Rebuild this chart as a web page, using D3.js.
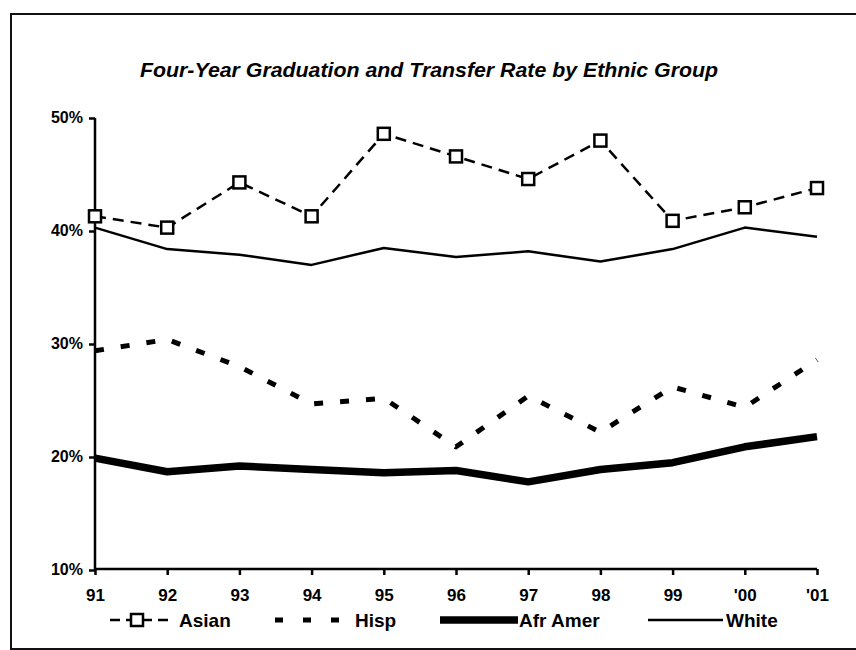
<!DOCTYPE html>
<html>
<head>
<meta charset="utf-8">
<script src="https://cdn.jsdelivr.net/npm/d3@7"></script>
<style>
  body { margin: 0; background: #fff; }
  svg { display: block; font-family: "Liberation Sans", Arial, sans-serif; }
</style>
</head>
<body>
<div id="chart"></div>
<script>
// values, in percent
var years = ["91", "92", "93", "94", "95", "96", "97", "98", "99", "'00", "'01"]
var asian = [41.3, 40.3, 44.3, 41.3, 48.6, 46.6, 44.6, 48.0, 40.9, 42.1, 43.8]
var hisp = [29.4, 30.4, 28.0, 24.7, 25.2, 20.9, 25.4, 22.2, 26.2, 24.4, 28.6]
var afrAmer = [19.9, 18.7, 19.2, 18.9, 18.6, 18.8, 17.8, 18.9, 19.5, 20.9, 21.8]
var white = [40.3, 38.4, 37.9, 37.0, 38.5, 37.7, 38.2, 37.3, 38.4, 40.3, 39.5]
var yTicks = [10, 20, 30, 40, 50]
var seriesNames = ["Asian", "Hisp", "Afr Amer", "White"]

var width = 856, height = 650

var svg = d3.select("#chart").append("svg")
  .attr("width", width)
  .attr("height", height)

// frame of the scanned page
svg.append("rect")
  .attr("x", 11).attr("y", 14)
  .attr("width", 900).attr("height", 635)
  .attr("fill", "none")
  .attr("stroke", "#111")
  .attr("stroke-width", 2)

svg.append("text")
  .attr("x", 140).attr("y", 77)
  .attr("font-size", 21)
  .attr("font-weight", "bold")
  .attr("font-style", "italic")
  .attr("textLength", 578)
  .attr("lengthAdjust", "spacingAndGlyphs")
  .text("Four-Year Graduation and Transfer Rate by Ethnic Group")

var x = d3.scalePoint().domain(years).range([95, 817])
var y = d3.scaleLinear().domain([10, 50]).range([570, 118])

// axes
var yAxis = svg.append("g")
  .attr("transform", "translate(95,0)")
  .call(d3.axisLeft(y).tickValues(yTicks).tickSize(6).tickPadding(6).tickFormat(d => d + "%"))
yAxis.select(".domain").attr("stroke-width", 2.5).attr("d", "M0," + y(50) + "V" + y(10))
yAxis.selectAll(".tick line").attr("stroke-width", 2.5)
yAxis.selectAll("text")
  .attr("font-size", 16)
  .attr("font-weight", "bold")
  .attr("font-family", "Liberation Sans, Arial, sans-serif")
  .attr("dy", "0.3em")

var xAxis = svg.append("g")
  .attr("transform", "translate(0,569)")
  .call(d3.axisBottom(x).tickSize(6).tickPadding(14))
xAxis.select(".domain").attr("stroke-width", 2.5).attr("d", "M95,0H817")
xAxis.selectAll(".tick line").attr("stroke-width", 2.5)
xAxis.selectAll("text")
  .attr("font-size", 17)
  .attr("font-weight", "bold")
  .attr("font-family", "Liberation Sans, Arial, sans-serif")

var line = d3.line()
  .x((d, i) => x(years[i]))
  .y(d => y(d))

var styles = [
  { data: asian, width: 2.5, dash: "11,7" },
  { data: hisp, width: 5, dash: "9,17" },
  { data: afrAmer, width: 7.5, dash: null },
  { data: white, width: 2.5, dash: null }
]

svg.selectAll("path.series")
  .data(styles)
  .join("path")
  .attr("class", "series")
  .attr("d", d => line(d.data))
  .attr("fill", "none")
  .attr("stroke", "#000")
  .attr("stroke-width", d => d.width)
  .attr("stroke-dasharray", d => d.dash)
  .attr("stroke-linejoin", "round")

svg.selectAll("rect.marker")
  .data(asian)
  .join("rect")
  .attr("class", "marker")
  .attr("x", (d, i) => x(years[i]) - 6)
  .attr("y", d => y(d) - 6)
  .attr("width", 12).attr("height", 12)
  .attr("fill", "#fff")
  .attr("stroke", "#000")
  .attr("stroke-width", 2.5)

// legend
var legendY = 620
var legend = [
  { x1: 110, x2: 172, tx: 179, width: 2.5, dash: "10,6" },
  { x1: 275, x2: 342, tx: 355, width: 5, dash: "8,20" },
  { x1: 440, x2: 518, tx: 519, width: 7.5, dash: null },
  { x1: 648, x2: 723, tx: 726, width: 2.5, dash: null }
]
var lg = svg.append("g")
lg.selectAll("line")
  .data(legend)
  .join("line")
  .attr("x1", d => d.x1).attr("x2", d => d.x2)
  .attr("y1", legendY).attr("y2", legendY)
  .attr("stroke", "#000")
  .attr("stroke-width", d => d.width)
  .attr("stroke-dasharray", d => d.dash)
lg.append("rect")
  .attr("x", 131).attr("y", legendY - 6)
  .attr("width", 12).attr("height", 12)
  .attr("fill", "#fff").attr("stroke", "#000").attr("stroke-width", 2.5)
lg.selectAll("text")
  .data(legend)
  .join("text")
  .attr("x", d => d.tx)
  .attr("y", legendY + 7)
  .attr("font-size", 19)
  .attr("font-weight", "bold")
  .text((d, i) => seriesNames[i])
</script>
</body>
</html>
